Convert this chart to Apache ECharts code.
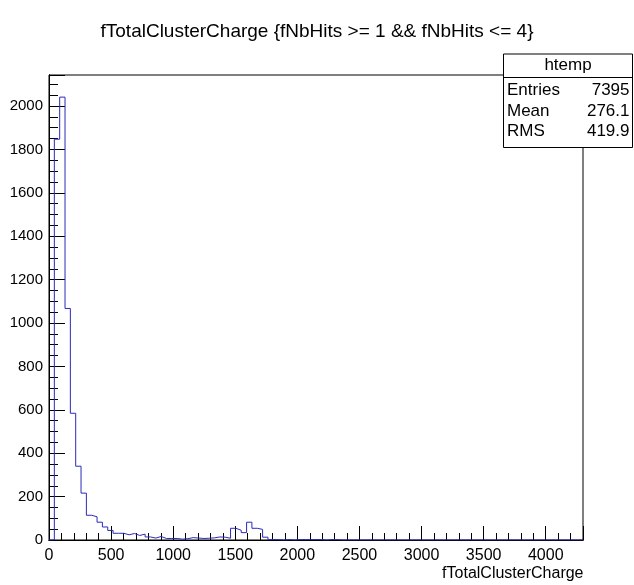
<!DOCTYPE html>
<html>
<head>
<meta charset="utf-8">
<script src="https://cdn.jsdelivr.net/npm/echarts@6/dist/echarts.min.js"></script>
<style>
html,body{margin:0;padding:0;background:#fff;}
#c{width:634px;height:585px;}
</style>
</head>
<body>
<div id="c"></div>
<script>
// ---- data ----
const titleText = 'fTotalClusterCharge {fNbHits >= 1 && fNbHits <= 4}';
const xAxisTitle = 'fTotalClusterCharge';
const histName = 'htemp';
const statLabels = ['Entries', 'Mean', 'RMS'];
const statValues = ['7395', '276.1', '419.9'];
const binStart = 0;
const binWidth = 43;
const counts = [
  0, 1847, 2041, 1067, 584, 340, 216, 114, 107, 82,
  60, 44, 31, 31, 24, 30, 21, 27, 14, 9,
  16, 7, 7, 7, 4, 6, 11, 9, 7, 8,
  10, 14, 13, 8, 54, 45, 34, 82, 54, 49,
  13, 2, 2, 0, 2, 0, 2, 2, 2, 2,
  2, 0, 2, 2, 0, 0, 0, 0, 0, 0,
  0, 0, 0, 0, 0, 0, 0, 0, 0, 0,
  0, 0, 0, 0, 0, 0, 0, 0, 0, 0,
  0, 0, 0, 0, 0, 0, 0, 0, 0, 0,
  0, 0, 0, 0, 0, 0, 0, 0, 0, 0
];
const xMin = 0, xMax = 4300, xMajor = 500, xMinor = 100;
const yMin = 0, yMax = 2143, yMajor = 200, yMinor = 50;

// ---- build step outline ----
const stepData = counts.map((c, i) => [binStart + i * binWidth, c]);
stepData.push([binStart + counts.length * binWidth, counts[counts.length - 1]]);

const FONT = 'Liberation Sans, Arial, sans-serif';
const chart = echarts.init(document.getElementById('c'), null, {renderer: 'canvas'});

const G = {left: 49, top: 75, right: 51, bottom: 45};

function xAx(interval, len, showLabel) {
  return {
    type: 'value', position: 'bottom', min: xMin, max: xMax, interval: interval,
    axisLine: {show: true, lineStyle: {color: '#000', width: 1}},
    axisTick: {show: true, inside: true, length: len, lineStyle: {color: '#000', width: 1}},
    splitLine: {show: false},
    axisLabel: {
      show: showLabel, margin: 8, color: '#000', fontFamily: FONT, fontSize: 16,
      formatter: v => (v % xMajor === 0 ? String(v) : '')
    }
  };
}
function yAx(interval, len, showLabel) {
  return {
    type: 'value', position: 'left', min: yMin, max: yMax, interval: interval,
    axisLine: {show: true, lineStyle: {color: '#000', width: 1}},
    axisTick: {show: true, inside: true, length: len, lineStyle: {color: '#000', width: 1}},
    splitLine: {show: false},
    axisLabel: {
      show: showLabel, margin: 6, color: '#000', fontFamily: FONT, fontSize: 15,
      formatter: v => (v % yMajor === 0 ? String(v) : '')
    }
  };
}

const boxL = 503.5, boxT = 54, boxW = 129, boxH = 93.5, headH = 23.5;
const rowY = [90, 111, 131.5];

const graphics = [
  {type: 'rect', z: 100, shape: {x: boxL, y: boxT, width: boxW, height: boxH},
   style: {fill: '#fff', stroke: '#000', lineWidth: 1}},
  {type: 'line', z: 101, shape: {x1: boxL, y1: boxT + headH, x2: boxL + boxW, y2: boxT + headH},
   style: {stroke: '#000', lineWidth: 1}},
  {type: 'text', z: 101, x: boxL + boxW / 2, y: boxT + headH / 2,
   style: {text: histName, fill: '#000', font: '17px ' + FONT, textAlign: 'center', textVerticalAlign: 'middle'}},
  {type: 'text', z: 10, x: 583.5, y: 566,
   style: {text: xAxisTitle, fill: '#000', font: '16px ' + FONT, textAlign: 'right', textVerticalAlign: 'top'}}
];
statLabels.forEach((lab, i) => {
  graphics.push({type: 'text', z: 101, x: boxL + 3.5, y: rowY[i],
    style: {text: lab, fill: '#000', font: '17px ' + FONT, textAlign: 'left', textVerticalAlign: 'middle'}});
  graphics.push({type: 'text', z: 101, x: boxL + boxW - 3, y: rowY[i],
    style: {text: statValues[i], fill: '#000', font: '17px ' + FONT, textAlign: 'right', textVerticalAlign: 'middle'}});
});

chart.setOption({
  animation: false,
  backgroundColor: '#fff',
  title: {
    text: titleText, left: 'center', top: 22, padding: 0,
    textStyle: {fontFamily: FONT, fontSize: 19, fontWeight: 'normal', color: '#000'}
  },
  grid: {left: G.left, top: G.top, right: G.right, bottom: G.bottom, show: true,
         borderColor: '#000', borderWidth: 1, backgroundColor: 'transparent', containLabel: false},
  xAxis: [xAx(xMajor, 14, true), xAx(xMinor, 7, false)],
  yAxis: [yAx(yMajor, 16, true), yAx(yMinor, 9, false)],
  series: [{
    type: 'line', xAxisIndex: 0, yAxisIndex: 0, step: 'end',
    data: stepData, symbol: 'none', clip: true,
    lineStyle: {color: '#2a2ab8', width: 1}
  }],
  graphic: graphics
});
</script>
</body>
</html>
